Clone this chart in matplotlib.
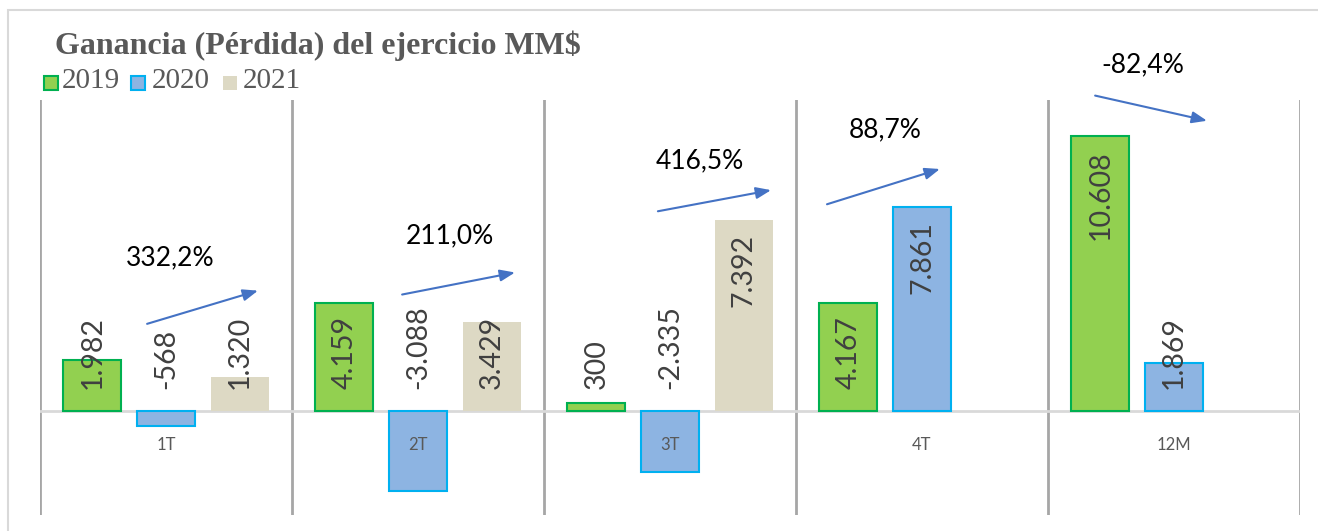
import numpy as np
import matplotlib
matplotlib.use("Agg")
import matplotlib.pyplot as plt
from matplotlib.patches import Rectangle

# data (MM$)
categories = ["1T", "2T", "3T", "4T", "12M"]
years = ["2019", "2020", "2021"]
v2019 = [1982, 4159, 300, 4167, 10608]
v2020 = [-568, -3088, -2335, 7861, 1869]
v2021 = [1320, 3429, 7392, np.nan, np.nan]
labels2019 = ["1.982", "4.159", "300", "4.167", "10.608"]
labels2020 = ["-568", "-3.088", "-2.335", "7.861", "1.869"]
labels2021 = ["1.320", "3.429", "7.392", "", ""]
changes = ["332,2%", "211,0%", "416,5%", "88,7%", "-82,4%"]

W, H = 1318, 531
fig = plt.figure(figsize=(W / 100, H / 100), dpi=100)


def fx(x):
    return x / W


def fy(y):
    return 1 - y / H


# chart border
fig.patches.append(Rectangle((fx(8), fy(560)), fx(1330) - fx(8), fy(10) - fy(560),
                             transform=fig.transFigure, fill=False,
                             edgecolor="#D9D9D9", linewidth=1.5))

ax = fig.add_axes([fx(40), fy(515), fx(1300) - fx(40), fy(100) - fy(515)])
ax.set_xlim(-0.5, 4.5)
ax.set_ylim(-4000, 12000)
for s in ax.spines.values():
    s.set_visible(False)
ax.set_xticks([])
ax.set_yticks([])
for xv in np.arange(-0.5, 5):
    ax.axvline(xv, color="#A6A6A6", linewidth=2, zorder=0)
ax.axhline(0, color="#D9D9D9", linewidth=2, zorder=1)

x = np.arange(len(categories))
width = 0.23
offset = 0.292
series = [
    (v2019, labels2019, "#92D050", "#00B050"),
    (v2020, labels2020, "#8DB4E2", "#00B0F0"),
    (v2021, labels2021, "#DDD9C4", "none"),
]
for i, (vals, labs, fc, ec) in enumerate(series):
    xs = x + (i - 1) * offset
    ax.bar(xs, vals, width, color=fc, edgecolor=ec, linewidth=1.5, zorder=2)
    for xi, v, lab in zip(xs, vals, labs):
        if not lab:
            continue
        if v > 6000:
            ax.text(xi, v - 550, lab, rotation=90, ha="center", va="top",
                    fontsize=20.5, color="#404040", family="Lato", zorder=3)
        else:
            ax.text(xi, 850, lab, rotation=90, ha="center", va="bottom",
                    fontsize=20.5, color="#404040", family="Lato", zorder=3)

for xi, cat in zip(x, categories):
    ax.text(xi, -1320, cat, ha="center", va="center", fontsize=12,
            color="#595959", family="Lato", zorder=3)

# change arrows and percentages
arrow_start = [(-0.075, 3370), (-0.063, 4500), (-0.048, 7710), (-0.377, 7980), (-0.313, 12170)]
arrow_end = [(0.365, 4650), (0.385, 5350), (0.401, 8525), (0.071, 9340), (0.131, 11200)]
text_pos = [(0.016, 5930), (0.127, 6780), (0.119, 9650), (-0.147, 10850), (-0.123, 13370)]
for i, txt in enumerate(changes):
    (sx, sy), (ex, ey), (tx, ty) = arrow_start[i], arrow_end[i], text_pos[i]
    ax.annotate("", xy=(i + ex, ey), xytext=(i + sx, sy), annotation_clip=False,
                arrowprops=dict(arrowstyle="-|>,head_length=0.9,head_width=0.35",
                                color="#4472C4", linewidth=1.5, shrinkA=0, shrinkB=0))
    ax.text(i + tx, ty, txt, ha="center", va="center", fontsize=19,
            color="black", family="Lato", clip_on=False)

# title and legend
fig.text(fx(55), fy(46), "Ganancia (Pérdida) del ejercicio MM$", ha="left", va="center",
         fontsize=23, fontweight="bold", color="#595959", family="Liberation Serif")
legend_x = [(44, 62), (131, 152), (223, 243)]
for (px_, tx_), yr, (_, _, fc, ec) in zip(legend_x, years, series):
    fig.patches.append(Rectangle((fx(px_), fy(90)), fx(14), fx(14) * W / H,
                                 transform=fig.transFigure, facecolor=fc,
                                 edgecolor=ec, linewidth=1.5))
    fig.text(fx(tx_), fy(81), yr, ha="left", va="center", fontsize=21,
             color="#595959", family="Liberation Serif")

fig.savefig("out.png", dpi=100)
